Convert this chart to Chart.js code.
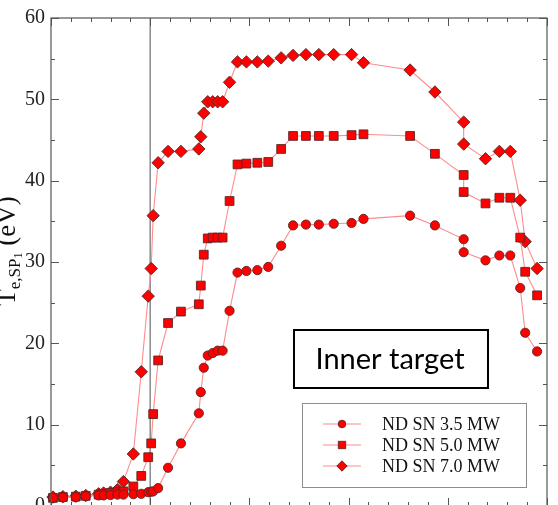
<!DOCTYPE html>
<html>
<head>
<meta charset="utf-8">
<script src="https://cdn.jsdelivr.net/npm/chart.js@4.4.1/dist/chart.umd.min.js"></script>
<style>
  html, body { margin: 0; padding: 0; background: #fff; overflow: hidden; width: 558px; height: 505px; }
  #wrap { position: relative; width: 558px; height: 545px; }
</style>
</head>
<body>
<div id="wrap"><canvas id="c" width="558" height="545"></canvas></div>
<script>
// Sample times (x) shared by the three power scans
const timeGrid = [-0.98, -0.88, -0.75, -0.65, -0.52, -0.47, -0.40, -0.33, -0.27, -0.17,
                  -0.09, -0.02, 0.01, 0.03, 0.08, 0.18, 0.31, 0.49, 0.51, 0.54,
                  0.58, 0.63, 0.68, 0.73, 0.80, 0.88, 0.97, 1.08, 1.19, 1.32,
                  1.44, 1.57, 1.70, 1.85, 2.03, 2.15, 2.62, 2.87, 3.16, 3.16,
                  3.38, 3.52, 3.63, 3.73, 3.78, 3.90];

// Inner strike-point electron temperature, eV
const te35 = [1.0, 1.05, 1.1, 1.2, 1.3, 1.3, 1.35, 1.4, 1.4, 1.45,
              1.5, 1.7, 1.75, 1.8, 2.2, 4.7, 7.7, 11.4, 14.0, 17.0,
              18.5, 18.8, 19.1, 19.1, 24.0, 28.7, 28.9, 29.0, 29.4, 32.0,
              34.5, 34.6, 34.6, 34.7, 34.8, 35.3, 35.7, 34.5, 32.8, 31.2,
              30.2, 30.8, 30.8, 26.8, 21.3, 19.0];
const te50 = [1.0, 1.1, 1.15, 1.25, 1.4, 1.5, 1.6, 1.7, 1.8, 2.4,
              3.7, 6.0, 7.7, 11.3, 17.9, 22.5, 23.9, 24.8, 27.1, 30.9,
              32.9, 33.0, 33.0, 33.0, 37.5, 42.0, 42.1, 42.2, 42.3, 43.9,
              45.5, 45.5, 45.5, 45.5, 45.6, 45.7, 45.5, 43.3, 40.7, 38.6,
              37.2, 37.9, 37.9, 33.0, 28.8, 25.9];
const te70 = [1.1, 1.15, 1.2, 1.3, 1.5, 1.6, 1.7, 2.0, 3.0, 6.4,
              16.5, 25.8, 29.2, 35.7, 42.2, 43.6, 43.6, 43.9, 45.4, 48.3,
              49.7, 49.7, 49.7, 49.7, 52.1, 54.6, 54.6, 54.6, 54.7, 55.1,
              55.4, 55.5, 55.5, 55.5, 55.5, 54.5, 53.6, 50.9, 47.2, 44.5,
              42.7, 43.6, 43.6, 37.6, 32.5, 29.2];

const seriesLabels = ['ND SN 3.5 MW', 'ND SN 5.0 MW', 'ND SN 7.0 MW'];
const seriesMarkers = ['circle', 'rect', 'rectRot'];
const yTicks = [0, 10, 20, 30, 40, 50, 60];
const xMajorTicks = [-1, 0, 1, 2, 3, 4];
const boxText = 'Inner target';

const LINE = '#ff8c8c';
const FILL = '#ff0000';
const EDGE = '#5a2626';
const FRAME = '#555555';
const SERIF = '"Liberation Serif", "DejaVu Serif", serif';

const seriesValues = [te35, te50, te70];
const markerRadius = { circle: 4.6, rect: 6.2, rectRot: 6.2 };

const datasets = seriesValues.map((vals, i) => ({
  label: seriesLabels[i],
  data: timeGrid.map((t, k) => ({ x: t, y: vals[k] })),
  borderColor: LINE,
  borderWidth: 1.1,
  backgroundColor: FILL,
  pointStyle: seriesMarkers[i],
  pointRadius: markerRadius[seriesMarkers[i]],
  pointBackgroundColor: FILL,
  pointBorderColor: EDGE,
  pointBorderWidth: 0.9,
  tension: 0,
  clip: false
}));

// Inward ticks on all four sides, the frame and the t = 0 marker line
const framePlugin = {
  id: 'frame',
  beforeDatasetsDraw(chart) {
    const { ctx, chartArea: a, scales: { x } } = chart;
    const px = x.getPixelForValue(0);
    ctx.save();
    ctx.strokeStyle = '#8a8a8a';
    ctx.lineWidth = 1.5;
    ctx.beginPath();
    ctx.moveTo(px, a.top);
    ctx.lineTo(px, a.bottom);
    ctx.stroke();
    ctx.restore();
  },
  afterDatasetsDraw(chart) {
    const { ctx, chartArea: a, scales: { x, y } } = chart;
    ctx.save();
    ctx.strokeStyle = FRAME;
    ctx.lineWidth = 1.2;
    ctx.strokeRect(a.left, a.top, a.right - a.left, a.bottom - a.top);
    ctx.lineWidth = 1;
    ctx.beginPath();
    // x ticks (major every 1, minor every 0.2)
    for (let k = Math.round(x.min * 5); k <= Math.round(x.max * 5); k++) {
      const v = k / 5;
      const p = Math.round(x.getPixelForValue(v)) + 0.5;
      const len = xMajorTicks.includes(Math.round(v * 100) / 100) && k % 5 === 0 ? 8 : 4;
      ctx.moveTo(p, a.top); ctx.lineTo(p, a.top + len);
      ctx.moveTo(p, a.bottom); ctx.lineTo(p, a.bottom - len);
    }
    // y ticks (major every 10, minor every 5)
    for (let v = y.min; v <= y.max; v += 5) {
      const p = Math.round(y.getPixelForValue(v)) + 0.5;
      const len = yTicks.includes(v) ? 8 : 4;
      ctx.moveTo(a.left, p); ctx.lineTo(a.left + len, p);
      ctx.moveTo(a.right, p); ctx.lineTo(a.right - len, p);
    }
    ctx.stroke();
    ctx.restore();
  },
  afterDraw(chart) {
    const { ctx, chartArea: a } = chart;
    ctx.save();

    // rotated y title: T_e,SP1 (eV)
    ctx.translate(15, 251);
    ctx.rotate(-Math.PI / 2);
    ctx.fillStyle = '#111';
    ctx.textBaseline = 'alphabetic';
    const parts = [
      { t: 'T', f: 27, dy: 0 },
      { t: 'e,SP', f: 17, dy: 5 },
      { t: '1', f: 12, dy: 7 },
      { t: ' (eV)', f: 27, dy: 0 }
    ];
    let total = 0;
    parts.forEach(p => { ctx.font = p.f + 'px ' + SERIF; p.w = ctx.measureText(p.t).width; total += p.w; });
    let tx = -total / 2;
    parts.forEach(p => { ctx.font = p.f + 'px ' + SERIF; ctx.fillText(p.t, tx, p.dy); tx += p.w; });
    ctx.setTransform(1, 0, 0, 1, 0, 0);

    // annotation box
    ctx.fillStyle = '#fff';
    ctx.fillRect(294, 330, 194, 58);
    ctx.strokeStyle = '#000';
    ctx.lineWidth = 2;
    ctx.strokeRect(294, 330, 194, 58);
    ctx.fillStyle = '#000';
    ctx.font = '29px Lato, "Open Sans", sans-serif';
    ctx.textAlign = 'center';
    ctx.textBaseline = 'middle';
    ctx.fillText(boxText, 390, 360);

    // legend
    const lx = 302, ly = 403, lw = 224, lh = 84;
    ctx.fillStyle = '#fff';
    ctx.fillRect(lx, ly, lw, lh);
    ctx.strokeStyle = '#8c8c8c';
    ctx.lineWidth = 1;
    ctx.strokeRect(lx + 0.5, ly + 0.5, lw, lh);
    ctx.textAlign = 'left';
    ctx.font = '18px ' + SERIF;
    chart.data.datasets.forEach((ds, i) => {
      const yy = 424 + i * 21;
      ctx.strokeStyle = LINE;
      ctx.lineWidth = 1.1;
      ctx.beginPath();
      ctx.moveTo(323, yy); ctx.lineTo(361, yy);
      ctx.stroke();
      ctx.fillStyle = FILL;
      ctx.strokeStyle = EDGE;
      ctx.lineWidth = 0.9;
      Chart.helpers.drawPoint(ctx, {
        pointStyle: ds.pointStyle,
        radius: ds.pointStyle === 'circle' ? 3.8 : 5.2,
        rotation: 0,
        borderWidth: 0.9
      }, 342, yy);
      ctx.fillStyle = '#111';
      ctx.textBaseline = 'middle';
      ctx.fillText(ds.label, 382, yy + 1);
    });
    ctx.restore();
  }
};

new Chart(document.getElementById('c'), {
  type: 'line',
  data: { datasets },
  options: {
    responsive: false,
    animation: false,
    devicePixelRatio: 1,
    layout: { padding: { left: 0, right: 11, top: 11, bottom: 0 } },
    plugins: { legend: { display: false }, tooltip: { enabled: false } },
    scales: {
      x: {
        type: 'linear',
        min: -1, max: 4,
        grid: { display: false },
        border: { display: false },
        ticks: { display: false },
        afterFit(s) { s.height = 39; }
      },
      y: {
        type: 'linear',
        min: 0, max: 60,
        grid: { display: false, drawTicks: false },
        border: { display: false },
        afterBuildTicks(s) { s.ticks = yTicks.map(v => ({ value: v })); },
        ticks: {
          padding: 6,
          color: '#222',
          font: { family: SERIF, size: 20 }
        },
        afterFit(s) { s.width = 51; }
      }
    }
  },
  plugins: [framePlugin]
});
</script>
</body>
</html>
